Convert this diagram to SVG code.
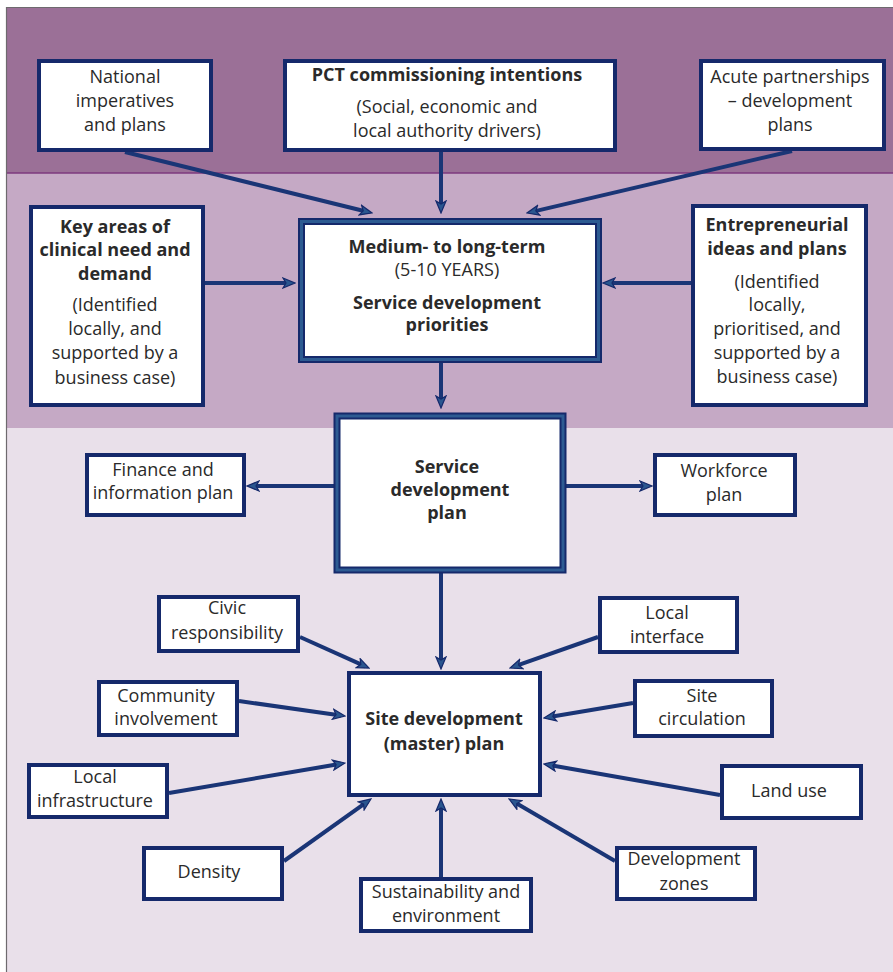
<svg xmlns="http://www.w3.org/2000/svg" width="893" height="972" viewBox="0 0 893 972">
  <style>
    .box { fill: #ffffff; stroke: #15296b; stroke-width: 4; }
    .thick { fill: #ffffff; stroke: #15296b; stroke-width: 7; }
    .thick-in { fill: none; stroke: #2d5b92; stroke-width: 3; }
    text { font-family: "Open Sans", "Noto Sans", "DejaVu Sans", sans-serif; font-size: 18px; fill: #2a2a2a; text-anchor: middle; }
    .b { font-weight: bold; }
    .conn line { stroke: #1a3576; stroke-width: 4; marker-end: url(#head); }
  </style>
  <defs>
    <marker id="head" markerUnits="userSpaceOnUse" viewBox="0 0 14 12" markerWidth="14" markerHeight="12" refX="9" refY="6" orient="auto">
      <path d="M1,1 L13,6 L1,11 L4,6 z" fill="#2a568f" stroke="#15296b" stroke-width="1.2" stroke-linejoin="miter"/>
    </marker>
  </defs>

  <!-- background bands -->
  <rect x="0" y="0" width="893" height="972" fill="#ffffff"/>
  <rect x="6" y="7" width="887" height="166" fill="#9b7097"/>
  <rect x="6" y="173" width="887" height="255" fill="#c5a9c5"/>
  <rect x="6" y="428" width="887" height="544" fill="#e9e0ea"/>
  <line x1="6" y1="173" x2="893" y2="173" stroke="#7d3a7e" stroke-width="1.5"/>
  <line x1="6.5" y1="7" x2="6.5" y2="972" stroke="#6e6a6e" stroke-width="1.2"/>
  <line x1="6" y1="7.5" x2="893" y2="7.5" stroke="#6e6a6e" stroke-width="1"/>

  <!-- connectors -->
  <g id="connectors" class="conn">
    <line x1="125" y1="152" x2="368.1" y2="212"/>
    <line x1="441" y1="152" x2="441" y2="209"/>
    <line x1="792" y1="151" x2="530.9" y2="212.1"/>
    <line x1="205" y1="283" x2="291" y2="283"/>
    <line x1="691" y1="283" x2="607" y2="283"/>
    <line x1="441" y1="363" x2="441" y2="404"/>
    <line x1="441" y1="573" x2="441" y2="665"/>
    <line x1="334" y1="486" x2="251" y2="486"/>
    <line x1="566" y1="486" x2="648" y2="486"/>
    <line x1="300" y1="637" x2="365.4" y2="666.4"/>
    <line x1="239" y1="701" x2="341" y2="715.4"/>
    <line x1="169" y1="793" x2="341" y2="763.7"/>
    <line x1="284" y1="861" x2="367.7" y2="801.3"/>
    <line x1="441" y1="877" x2="441" y2="803"/>
    <line x1="598" y1="637" x2="513.8" y2="666.7"/>
    <line x1="633" y1="703" x2="547.9" y2="717.3"/>
    <line x1="720" y1="795" x2="547.9" y2="764.7"/>
    <line x1="615" y1="861" x2="512.5" y2="801"/>
  </g>

  <!-- top band -->
  <g id="national">
    <rect class="box" x="39" y="61" width="172" height="89"/>
    <text x="125" y="83">National</text>
    <text x="125" y="107">imperatives</text>
    <text x="125" y="131">and plans</text>
  </g>
  <g id="pct">
    <rect class="box" x="285" y="61" width="330" height="89"/>
    <text class="b" x="447" y="81">PCT commissioning intentions</text>
    <text x="447" y="113">(Social, economic and</text>
    <text x="447" y="137">local authority drivers)</text>
  </g>
  <g id="acute">
    <rect class="box" x="701" y="61" width="183" height="88"/>
    <text x="790" y="83">Acute partnerships</text>
    <text x="790" y="107">– development</text>
    <text x="790" y="131">plans</text>
  </g>

  <!-- middle band -->
  <g id="key-areas">
    <rect class="box" x="31" y="207" width="172" height="198"/>
    <text class="b" x="115" y="233">Key areas of</text>
    <text class="b" x="115" y="256">clinical need and</text>
    <text class="b" x="115" y="280">demand</text>
    <text x="115" y="311">(Identified</text>
    <text x="115" y="335">locally, and</text>
    <text x="115" y="359">supported by a</text>
    <text x="115" y="384">business case)</text>
  </g>
  <g id="priorities">
    <rect class="thick" x="301.5" y="221.5" width="297" height="138"/>
    <rect class="thick-in" x="301.5" y="221.5" width="297" height="138"/>
    <text class="b" x="447" y="253">Medium- to long-term</text>
    <text x="447" y="276">(5-10 YEARS)</text>
    <text class="b" x="447" y="309">Service development</text>
    <text class="b" x="447" y="331">priorities</text>
  </g>
  <g id="entrepreneurial">
    <rect class="box" x="693" y="206" width="173" height="199"/>
    <text class="b" x="777" y="231">Entrepreneurial</text>
    <text class="b" x="777" y="255">ideas and plans</text>
    <text x="777" y="288">(Identified</text>
    <text x="777" y="311">locally,</text>
    <text x="777" y="335">prioritised, and</text>
    <text x="777" y="359">supported by a</text>
    <text x="777" y="383">business case)</text>
  </g>

  <!-- lower band -->
  <g id="service-plan">
    <rect class="thick" x="337" y="416" width="226" height="154"/>
    <rect class="thick-in" x="337" y="416" width="226" height="154"/>
    <text class="b" x="447" y="473">Service</text>
    <text class="b" x="450" y="496">development</text>
    <text class="b" x="447" y="519">plan</text>
  </g>
  <g id="finance">
    <rect class="box" x="87" y="455" width="157" height="60"/>
    <text x="163" y="476">Finance and</text>
    <text x="163" y="499">information plan</text>
  </g>
  <g id="workforce">
    <rect class="box" x="655" y="455" width="140" height="60"/>
    <text x="724" y="477">Workforce</text>
    <text x="724" y="501">plan</text>
  </g>
  <g id="site-plan">
    <rect class="box" x="349" y="673" width="191" height="122"/>
    <text class="b" x="444" y="725">Site development</text>
    <text class="b" x="444" y="750">(master) plan</text>
  </g>
  <g id="civic">
    <rect class="box" x="159" y="597" width="139" height="54"/>
    <text x="227" y="614">Civic</text>
    <text x="227" y="639">responsibility</text>
  </g>
  <g id="community">
    <rect class="box" x="99" y="682" width="138" height="53"/>
    <text x="166" y="702">Community</text>
    <text x="166" y="725">involvement</text>
  </g>
  <g id="infrastructure">
    <rect class="box" x="29" y="765" width="138" height="52"/>
    <text x="95" y="783">Local</text>
    <text x="95" y="807">infrastructure</text>
  </g>
  <g id="density">
    <rect class="box" x="144" y="848" width="138" height="51"/>
    <text x="209" y="878">Density</text>
  </g>
  <g id="sustainability">
    <rect class="box" x="361" y="879" width="170" height="52"/>
    <text x="446" y="898">Sustainability and</text>
    <text x="446" y="922">environment</text>
  </g>
  <g id="local-interface">
    <rect class="box" x="600" y="598" width="137" height="54"/>
    <text x="667" y="619">Local</text>
    <text x="667" y="643">interface</text>
  </g>
  <g id="site-circulation">
    <rect class="box" x="635" y="681" width="137" height="55"/>
    <text x="702" y="702">Site</text>
    <text x="702" y="725">circulation</text>
  </g>
  <g id="land-use">
    <rect class="box" x="722" y="766" width="139" height="52"/>
    <text x="789" y="797">Land use</text>
  </g>
  <g id="development-zones">
    <rect class="box" x="617" y="848" width="138" height="51"/>
    <text x="684" y="865">Development</text>
    <text x="684" y="890">zones</text>
  </g>
</svg>
